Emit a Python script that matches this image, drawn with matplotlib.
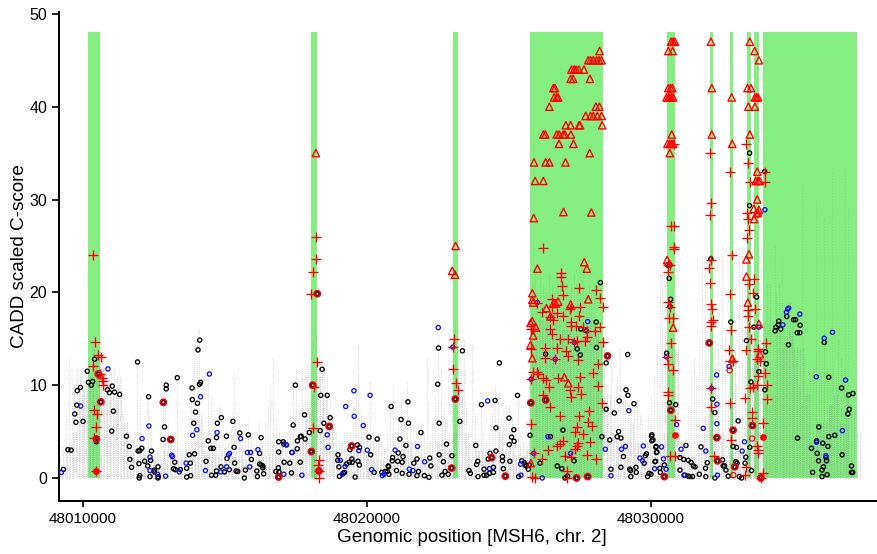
import numpy as np
import matplotlib
matplotlib.use('Agg')
import matplotlib.pyplot as plt

plt.rcParams['font.family'] = ['Liberation Sans', 'DejaVu Sans']

# positions are kb past 48,000,000, second number is the C-score
BASE = 48000000

band_start = [10.18, 18.04, 23.03, 25.75, 30.58, 32.07, 32.78, 33.38, 33.61, 33.96]
band_end = [10.59, 18.25, 23.19, 28.30, 30.84, 32.19, 32.87, 33.52, 33.81, 37.26]

# top of the gray dust, one value each 0.1 kb from 9.0 kb
gray_top = [1, 1.5, 2, 3.5, 7, 13, 8, 10, 12, 11, 11, 13, 13, 14, 15.5, 14.5, 15, 13, 12, 11,
	11.5, 12, 11, 11, 7, 5, 4, 3, 5, 12.8, 9, 4, 3, 9, 5, 3, 3, 5, 9, 10.5,
	6, 4, 3, 11, 3.5, 3, 4, 5, 10, 14, 15.5, 16, 6, 3, 12, 9, 4, 5, 8, 4,
	3, 4, 5.5, 11.5, 5, 6, 5, 4, 6, 4, 3, 5, 6, 4, 6, 8, 10, 13, 6, 5,
	4, 4, 5, 7, 10.5, 12, 8, 12, 12, 12.5, 13, 15, 17, 14, 13, 12, 11, 9, 6, 5,
	4, 4, 5, 5, 5, 8, 10, 14.5, 7, 6.5, 6, 10.5, 5, 4, 5, 3, 3, 5, 8, 10,
	5, 6, 9, 6, 10.5, 6, 4, 3, 4, 6, 5, 13, 4, 6, 9, 15, 12, 8, 6, 5,
	9, 17, 16, 13, 15, 8, 4, 14.5, 7, 4, 9, 5, 4, 5, 7, 10, 9, 6, 6, 8,
	8, 6.5, 5, 9, 5, 4, 6, 11, 21, 22, 20, 22, 21, 20, 22, 21, 20, 22, 21, 22,
	21, 20, 21, 22, 20, 21, 22, 20, 21, 20, 21, 15, 13, 9, 10, 8, 13, 9, 11, 14,
	9, 10, 6.5, 6, 8, 8.5, 7, 6, 5, 7, 9, 11, 14, 22, 23, 21, 12, 7, 5, 5,
	5, 4, 4, 8, 11, 13, 11, 15, 24, 22, 14, 10, 7, 5, 9, 25, 16, 9, 8, 8,
	10, 25, 25, 22, 25, 22, 15, 14, 17, 15, 17, 21, 21, 17, 20, 21, 19, 18, 18, 19,
	17, 13, 10, 8, 13, 10, 12, 12, 15, 14, 11, 16, 12, 10, 12, 11, 15, 13, 12, 9]

# height of the dense part of the dust, one value each 0.2 kb from 9.0 kb
gray_core = [.5, 1, 3, 5, 9, 10, 11, 13, 12, 10,
	9.5, 9.5, 6, 3, 2, 2.5, 2, 2, 2, 3,
	3, 2, 2, 2, 4, 7, 3, 3, 2.5, 3,
	2, 2.5, 2.5, 2, 3, 2, 2.5, 2.5, 3.5, 3,
	2, 2, 3, 5, 7, 9, 11, 9, 7, 3,
	2, 2.5, 3, 4, 3, 3, 2, 2, 1.5, 3,
	2.5, 4, 4, 2, 2, 2, 2, 4, 6, 3,
	5, 9, 5, 2, 3, 3, 2, 3, 5, 3,
	3.5, 2.5, 2.5, 3, 15, 17, 17, 16, 17, 16,
	16, 16, 15, 16, 17, 16, 15, 9, 5, 4,
	4, 6, 4, 3, 4, 3, 3, 5, 15, 14,
	3, 2, 2, 3, 5, 7, 14, 5, 2.5, 14,
	4, 3, 16, 15, 15, 8, 9, 16, 14, 16,
	14, 14, 9, 4, 6, 6, 8, 9, 6, 9,
	8, 5]

# sparse streaks inside the last band
gray_high_x = [34.35, 34.6, 35.3, 35.8, 36.1, 36.36, 36.83, 36.95]
gray_high_top = [25, 24, 32, 30, 28, 33, 34, 29]

black_pts = [(9.31, .93), (9.47, 3.05), (9.58, 3.0), (9.71, 6.9), (9.75, 6.0), (9.78, 7.85), (9.80, 9.4), (9.91, 9.75),
	(10.0, 6.1), (10.15, 11.5), (10.19, 10.3), (10.29, 10.0), (10.34, 10.4), (10.41, 12.8), (10.47, 3.9), (10.86, 9.5),
	(10.93, 9.2), (11.03, 9.9), (11.11, 9.25), (11.29, 9.0), (11.07, 7.2), (11.01, 5.05), (11.53, 4.5), (11.63, 3.4),
	(11.65, 2.0), (11.71, 1.15), (11.92, 12.5), (11.94, 2.9), (12.0, 2.95), (12.07, 3.2), (11.97, 1.55), (12.0, .25),
	(11.98, 0), (12.17, 1.8), (12.28, 1.3), (12.38, 1.9), (12.41, 2.9), (12.31, 8.75), (12.36, .15), (12.51, .85),
	(12.51, .65), (12.64, 1.2), (12.65, .15), (12.64, 0), (12.82, 4.15), (12.87, 5.5), (12.93, 9.6), (12.93, 10),
	(13.23, 1.7), (13.19, 1.0), (13.25, .9), (13.43, .9), (13.32, 10.8), (13.65, 1.05), (13.65, .1), (13.78, 1.6),
	(13.79, .25), (13.74, 2.5), (13.93, 2.6), (13.84, 9.7), (13.85, 8.45), (14.03, 8.05), (14.1, 10.1), (14.14, 10.3),
	(13.96, 7.1), (13.9, 5.9), (14.05, 13.8), (14.11, 14.85), (14.33, 1.8), (14.41, 4.0), (14.5, 3.2), (14.59, 3.2),
	(14.7, 4.35), (14.73, 5.9), (14.87, 6.5), (14.53, .3), (14.67, .3), (14.7, .75), (14.86, 1.2), (14.98, .65),
	(15.15, .9), (15.07, 2.1), (15.32, 3.3), (15.28, 6.1), (15.34, 1.6), (15.39, .75), (15.45, .7), (15.05, 4.5),
	(15.52, 4.85), (15.68, 0), (15.72, .85), (15.82, 4.65), (15.93, 2.0), (16.12, .75), (16.14, .15), (16.22, 1.5),
	(16.22, 2.65), (16.27, 4.35), (16.33, 1.3), (16.36, .45), (16.33, 1.1), (16.27, 1.4), (16.79, .7), (16.89, 3.9),
	(16.89, 2.8), (16.88, 1.1), (16.9, .65), (17.05, 3.9), (17.07, 3.65), (17.08, 1.7), (17.28, 1.6), (17.34, .55),
	(17.4, 5.7), (17.48, 10.0), (17.54, 3.15), (17.65, 1.7), (17.55, 4.0), (17.65, 4.45), (17.68, 4.5), (17.82, 4.2),
	(17.8, 6.8), (17.97, 4.9), (18.35, 5.1), (18.37, 8.9), (18.42, 11.7), (18.6, 8.9), (18.48, 5.9), (18.7, 6.5),
	(18.98, 2.5), (18.97, 1.9), (19.01, 1.2), (19.03, .18), (19.17, .53), (19.21, .6), (19.28, 1.5), (19.38, 1.7),
	(19.4, 3.05), (19.47, 2.05), (19.48, 1.7), (19.58, .1), (19.66, 3.55), (19.74, 3.3), (19.68, 1.8), (19.73, 1.4),
	(20.07, 4.4), (20.13, 2.5), (20.25, .6), (20.36, 4.2), (20.52, .6), (20.65, .7), (20.72, .7), (20.77, .4),
	(20.76, 1.2), (20.75, 1.3), (20.85, 7.7), (20.9, 2.2), (20.89, 1.85), (21.04, .8), (21.08, 1.8), (21.1, 2.7),
	(21.2, 6.3), (21.24, 1.7), (21.27, 2.3), (21.24, .5), (21.16, 4.2), (21.37, 3.5), (21.44, 8.2), (21.46, 5.9),
	(21.48, .4), (21.65, 1.6), (21.76, 2.05), (21.76, .25), (21.81, .7), (21.9, 4.9), (22.02, .25), (22.18, .07),
	(22.21, 2.15), (22.25, 1.3), (22.49, 10.1), (22.52, 14), (22.54, 5.9), (22.54, 2.5), (22.69, 1.75), (22.75, .7),
	(22.64, .3), (22.8, 3.65), (22.86, .4), (22.99, 2.4), (23.27, 6.1), (23.36, 13.7), (23.59, .8), (23.64, .5),
	(23.83, 3.5), (23.86, 1.45), (23.9, 1.8), (23.91, .15), (24.03, 7.9), (24.12, .95), (24.12, .3), (24.21, .3),
	(24.31, .5), (24.33, 2.65), (24.27, 2.05), (24.45, 1.15), (24.45, .6), (24.51, 8.35), (24.54, 5.4), (24.54, 2.9),
	(24.66, 12.4), (24.77, 2.3), (24.77, 1.85), (24.8, 1.0), (25.03, 1.8), (25.0, 6.45), (25.17, 5.2), (25.09, 4.4),
	(25.18, 3.95), (25.01, 3.6), (25.3, 8.9), (25.34, .15), (25.45, 1.85), (25.54, 1.65), (25.62, 1.3), (25.56, 1.4),
	(25.68, .95), (25.71, 1.4), (25.74, 4.6), (26.09, 1.6), (26.29, 13.35), (26.46, 4.45), (26.9, 5.15), (26.7, 1.3),
	(26.86, 1.0), (27.06, .2), (26.97, 0), (27.29, 1.85), (27.4, 13.9), (27.51, 13.25), (27.53, 16.05), (27.73, 15.85),
	(28.07, 16.8), (28.08, 14.05), (28.22, 21.05), (28.27, 4.45), (28.42, 12.4), (28.42, 7.4), (28.55, 4.1), (28.71, 7.0),
	(28.81, 4.45), (28.86, 5.0), (28.88, 8.3), (29.12, 9.5), (29.19, 8.9), (29.18, 13.3), (29.4, 8.0), (28.94, 4.3),
	(29.03, 2.3), (28.94, 1.15), (28.59, .95), (29.25, .95), (29.28, .8), (29.29, .15), (29.47, 1.15), (29.48, .6),
	(29.8, 2.4), (29.84, 2.6), (29.76, 1.6), (29.88, .15), (29.93, .5), (30.03, 4.65), (30.07, 4.1), (30.18, 3.4),
	(30.21, 2.8), (30.16, 1.8), (30.31, 1.05), (30.33, .6), (30.58, 22.95), (30.67, 22.95), (30.64, 21.5), (30.69, 19.25),
	(30.67, 18.45), (30.55, 13.45), (30.65, 8.1), (30.87, 7.9), (31.23, 3.5), (31.02, 2.2), (31.02, .85), (31.15, 2.0),
	(31.31, 1.9), (31.41, 1.7), (31.49, 1.3), (31.55, 1.2), (31.19, .3), (31.31, .2), (31.37, .15), (31.46, .15),
	(30.47, 1.4), (30.02, 4.5), (30.03, 4.0), (30.17, 3.3), (30.19, 2.75), (30.14, 1.75), (30.0, .4), (31.76, 3.35),
	(31.7, .4), (31.93, .15), (31.98, 1.65), (31.92, 1.05), (32.25, 0), (32.34, 1.85), (32.52, 1.95), (32.54, 1.3),
	(32.64, .85), (32.59, 1.3), (32.72, .2), (32.89, 3.4), (33.01, 3.3), (32.99, 1.75), (33.03, 1.6), (33.11, .15),
	(33.19, 0), (33.34, 2.25), (33.31, 1.6), (33.54, .8), (33.48, 3.3), (33.07, 6.15), (32.25, 7.05), (32.17, 8.5),
	(32.81, 16.8), (33.36, 14.8), (33.52, 10.35), (34.01, 9.5), (34.03, 13.6), (34.06, 12.3), (33.8, 11.45), (33.72, 19.5),
	(33.62, 16.25), (33.47, 35), (33.47, 29.35), (34.0, 33), (32.11, 23.6), (34.5, 16.9), (34.48, 16.5), (34.4, 16.25),
	(34.37, 15.85), (34.57, 16.05), (34.78, 17.4), (35.02, 17.05), (35.09, 17.05), (35.25, 16.45), (35.15, 15.65),
	(35.24, 15.65), (34.84, 14.35), (36.26, 10.85), (36.71, 9.7), (36.96, 8.95), (37.11, 9.1), (36.98, 7.4), (36.93, 6.9),
	(35.16, 4.3), (35.91, 5.5), (36.26, 4.45), (36.47, 4.6), (35.65, 3.2), (35.85, 2.65), (35.83, 4.0), (36.05, 3.75),
	(36.23, 3.4), (35.9, 1.85), (36.16, 2.2), (36.18, 1.85), (36.07, 1.2), (36.02, .85), (35.69, .6), (36.02, .15),
	(36.2, .35), (36.1, 14.6), (36.73, 2.5), (37.06, 1.3), (37.06, .6), (37.1, .6)]

blue_pts = [(9.24, .6), (9.92, 7.75), (10.88, 11.75), (12.08, 4.25), (12.32, 5.6), (12.36, 2.25), (12.36, .8), (12.63, .4),
	(12.91, .2), (13.12, 2.45), (13.15, 2.3), (13.39, .65), (13.63, 1.6), (13.86, 4.6), (14.01, 5.2), (14.14, 8.75),
	(14.31, .8), (14.45, 11.2), (14.72, 4.9), (14.85, .65), (15.06, 1.2), (15.12, 2.5), (15.16, 2.65), (15.55, 4.25),
	(15.79, 2.75), (15.9, 2.75), (15.87, 1.2), (16.16, 3.05), (17.07, .4), (17.17, 3.55), (17.37, 2.75), (17.71, .3),
	(17.15, 3.6), (17.35, 2.75), (18.6, 4.65), (18.63, 3.3), (19.06, 1.9), (19.13, .4), (19.23, 1.25), (19.25, 7.7),
	(19.54, 9.4), (19.55, 6.65), (19.71, 2.95), (19.87, 5.65), (20.01, 3.0), (20.11, 8.9), (20.16, .9), (20.54, .25),
	(20.6, .4), (20.99, 3.0), (21.49, .95), (21.62, .8), (21.78, 3.4), (22.03, 1.75), (22.51, 16.2), (23.02, 14.1),
	(24.25, 8.3), (24.31, 1.0), (25.41, 1.5), (25.42, .3), (26.17, 0), (26.37, 4.45), (27.77, 16.85), (28.39, 3.1),
	(28.59, .25), (28.96, 3.1), (29.1, 3.4), (29.22, 7.25), (29.61, 2.15), (29.7, 1.85), (29.73, 3.45), (30.13, 1.0),
	(30.37, 3.35), (30.44, 2.05), (30.53, .95), (30.9, 5.75), (31.06, 3.1), (31.16, .3), (27.3, 14.6), (26.63, 12.8),
	(26.0, 18.9), (25.78, 10.65), (25.87, 2.65), (30.55, 13.05), (27.17, 2.65), (31.84, 5.35), (31.93, 2.9), (32.31, 11.1),
	(32.32, 7.95), (32.32, 5.85), (32.34, .3), (32.13, 9.65), (32.75, 12.0), (33.21, 2.9), (33.29, 3.9), (34.81, 18.2),
	(34.85, 18.3), (34.77, 17.85), (35.24, 17.65), (34.64, 16.5), (33.8, 16.25), (36.39, 15.7), (36.1, 15.05), (35.82, 10.9),
	(36.85, 10.55), (36.74, 5.1), (35.83, 3.85), (36.16, 2.4), (34.01, 28.9)]

ringed_pts = [(10.63, 8.2), (10.54, 11.2), (10.47, 4.2), (12.83, 8.15), (13.09, 4.15), (16.89, .1), (18.04, 2.85), (18.09, 10),
	(18.25, 19.85), (18.67, 5.55), (18.31, .75), (19.46, 3.45), (22.98, 1.07), (23.11, 8.5), (24.39, 2.2), (24.87, .2),
	(25.77, 8.1), (26.29, 8.4), (27.38, 0), (27.77, .15), (28.47, 13.15), (30.47, .15), (30.7, 7.3), (32.05, 14.55),
	(32.32, 4.35), (32.34, 1.85), (32.89, 5.15), (32.95, 1.2), (33.57, 5.65), (33.87, 0)]
open_red_pts = [(32.9, .3), (32.77, 11.6), (33.56, 4.25)]
solid_red_pts = [(30.85, 4.65), (33.93, 4.45), (10.47, .75)]

plus_pts = [(10.36, 24), (10.41, 14.6), (10.53, 13.3), (10.64, 13.05), (10.34, 12.1), (10.6, 11.2), (10.66, 10.8), (10.7, 10.4),
	(10.7, 10.0), (10.4, 7.35), (10.5, 6.9), (10.45, 5.5), (10.4, 4.3), (10.47, .7),
	(18.1, 22.2), (18.2, 23.6), (18.22, 26), (18.04, 19.85), (18.25, 12.5), (18.13, 9.75), (18.1, 5.4), (18.32, 1.9),
	(18.27, 1.45), (18.3, .75), (18.3, 0),
	(23.07, 15.0), (23.02, 14.1), (23.04, 11.7), (23.13, 10.2), (23.2, 9.5),
	(26.21, 24.8), (26.83, 22.05), (26.83, 21.7), (26.85, 20.7), (26.91, 19.7), (27.46, 20.5), (28.05, 20.25), (28.2, 19.4),
	(26.5, 19.25), (28.32, 18.4), (26.15, 17.85), (26.5, 18.45), (26.7, 17.75), (26.89, 17.45), (26.44, 17.3), (26.56, 17),
	(27.2, 18.4), (27.14, 18.2), (27.5, 18.4), (27.47, 17.45), (27.2, 16.85), (27.2, 16.4), (27.36, 16.4), (27.59, 16.25),
	(26.44, 16.0), (26.5, 15.5), (27.73, 15.8), (28.03, 15.8), (28.22, 16.25), (26.79, 15.0), (27.09, 14.95), (27.73, 15.15),
	(27.38, 14.8), (27.67, 14.8), (28.32, 14.6), (26.26, 14.05), (26.68, 14.0), (26.99, 13.7), (27.09, 13.1), (26.26, 12.9),
	(27.44, 12.7), (28.14, 12.25), (25.85, 11.45), (25.97, 11.45), (26.03, 11.2), (26.21, 10.75), (26.73, 10.75), (27.5, 10.9),
	(27.97, 11.3), (26.32, 10.55), (26.41, 9.85), (27.44, 9.85), (28.14, 9.9), (27.14, 9.5), (27.53, 9.1), (26.21, 8.95),
	(27.18, 8.75), (28.26, 8.1), (26.44, 7.7), (27.83, 7.25), (26.79, 6.65), (27.47, 6.65), (25.79, 5.85), (27.79, 6.05),
	(27.91, 5.55), (27.38, 5.45), (27.61, 4.7), (27.32, 4.9), (26.91, 4.0), (27.85, 3.85), (27.44, 3.8), (26.38, 3.0),
	(26.7, 3.4), (26.79, 3.7), (27.41, 3.4), (27.32, 3.1), (27.75, 2.5), (26.97, 2.4), (27.2, 2.3), (28.08, 2.0),
	(26.15, 2.0), (27.03, .7), (25.82, .1), (25.91, 0), (27.03, 0), (25.77, 16.1), (25.85, 16), (25.77, 13.9), (25.78, 10.65),
	(25.87, 2.65), (26.0, 18.9), (26.63, 12.8), (27.3, 14.6),
	(30.8, 36), (30.7, 27.1), (30.82, 27.15), (30.82, 24.9), (30.82, 24.65), (30.61, 22.9), (30.66, 22.9), (30.61, 22.2),
	(30.61, 19), (30.66, 18.45), (30.64, 17.2), (30.78, 17.2), (30.69, 14.5), (30.55, 13.05), (30.61, 12.3), (30.76, 11.65),
	(30.61, 9.3), (30.61, 8.95), (30.84, 6.2), (30.66, 2.4), (30.84, 2.4),
	(32.08, 35), (32.1, 29.6), (32.07, 28.35), (32.11, 23.5), (32.05, 22.6), (32.07, 21), (32.1, 18.75), (32.15, 18.2),
	(32.19, 17), (32.13, 16.75), (32.1, 16.4), (32.13, 9.65), (32.1, 7.6), (32.21, 2.4),
	(32.79, 33), (32.84, 24), (32.78, 19.8), (32.81, 15.95), (32.73, 13.8), (32.78, 12.6), (32.89, 12.6), (32.78, 8.05), (32.81, 4.1),
	(33.36, 36), (33.4, 33.9), (33.48, 31.9), (33.38, 28.6), (33.41, 27.9), (33.45, 26.7), (33.39, 25.9), (34.0, 32.95), (34.01, 31.9),
	(33.45, 20.9), (33.62, 21.45), (33.6, 19.9), (33.66, 18.2), (33.42, 18.1), (33.42, 17.4), (33.45, 16.3), (33.52, 15),
	(33.36, 13.8), (33.77, 13.9), (33.77, 13.7), (33.72, 12.8), (33.83, 12.55), (33.77, 11), (34.01, 11.35), (33.72, 10),
	(33.6, 9.85), (33.48, 9.65), (34.09, 10), (33.3, 8.65), (34.09, 8.5), (33.57, 7.1), (33.54, 6.45), (33.93, 5.95),
	(33.74, 3.4), (33.77, 3), (33.77, 2.65), (33.34, 1.2), (33.31, .3), (33.87, 0), (33.95, .5), (34.04, 14.5)]

tri_pts = [(28.19, 46), (27.79, 45), (27.87, 45), (27.97, 45), (28.08, 45), (28.17, 45), (28.26, 45),
	(27.2, 44), (27.29, 44), (27.36, 44), (27.46, 44), (27.64, 44), (27.17, 43), (27.26, 43), (27.85, 43),
	(26.56, 42), (26.62, 42), (26.59, 41), (26.68, 41), (26.73, 41), (26.42, 40), (28.06, 40), (28.18, 40),
	(27.7, 39), (27.87, 39), (27.97, 39), (28.11, 39), (28.26, 39), (27.0, 38), (27.17, 38), (27.47, 38), (27.5, 38), (28.28, 38),
	(26.21, 37), (26.28, 37), (26.68, 37), (26.77, 37), (26.91, 37), (26.97, 37), (27.18, 37), (26.76, 36), (27.27, 36),
	(27.84, 35), (25.88, 34), (26.29, 34), (26.42, 34), (26.99, 34), (25.92, 32), (26.21, 32), (26.92, 28.65), (27.9, 28.6), (25.87, 28),
	(26.0, 22.55), (27.65, 23.25), (27.74, 22.55), (25.82, 19.9), (25.82, 19.2), (25.85, 18.9), (26.32, 18.3), (26.56, 18.8),
	(26.73, 19.0), (26.65, 18.8), (27.17, 18.7), (27.79, 19.25), (26.46, 17.4), (25.82, 16.9), (25.76, 16.7), (25.95, 16.2),
	(25.85, 15.35), (25.76, 14.35), (25.82, 12.9), (26.95, 10.85), (27.09, 10.2), (25.77, 1.6),
	(18.2, 35), (23.12, 25), (23.0, 22.3), (23.1, 21.9),
	(30.71, 47), (30.78, 47), (30.84, 47), (30.61, 46), (30.76, 46), (30.61, 42), (30.69, 42), (30.75, 42),
	(30.55, 41), (30.61, 41), (30.66, 41), (30.72, 41), (30.78, 41), (30.73, 37), (30.58, 36), (30.66, 36), (30.72, 36), (30.78, 36), (30.66, 35),
	(32.11, 47), (32.14, 42), (32.14, 37), (32.84, 41), (32.86, 36), (33.48, 47), (33.4, 42), (33.52, 42), (33.43, 40), (33.66, 40), (33.48, 37),
	(33.65, 46), (33.8, 45), (33.66, 41), (33.72, 41), (33.77, 41), (33.74, 33), (33.69, 32), (33.77, 32), (33.83, 32), (33.74, 30),
	(33.62, 29), (33.8, 28.9), (33.72, 28.5), (33.77, 28.6), (33.63, 27.9),
	(30.57, 23.5), (33.45, 24.1), (33.36, 23.55), (33.36, 21.7), (33.41, 18.9), (33.8, 16.6), (30.78, 16.2), (33.83, 13.35), (32.87, 12.85)]

x_ticks = [48010000, 48020000, 48030000]
y_ticks = [0, 10, 20, 30, 40, 50]


def to_xy(pts):
	pts = np.asarray(pts, dtype=float)
	return BASE + pts[:, 0] * 1000, pts[:, 1]


fig = plt.figure(figsize=(8.77, 5.54), dpi=100)
ax = fig.add_axes([59 / 877, 1 - 501 / 554, (884 - 59) / 877, (501 - 12) / 554])

for s, e in zip(band_start, band_end):
	ax.fill_between([BASE + s * 1000, BASE + e * 1000], 0, 48, color='#84EE80', lw=0, zorder=1)

# dust: faint spikes up to gray_top, denser below gray_core
gray_x = BASE + (9.0 + 0.1 * np.arange(len(gray_top))) * 1000
ax.vlines(gray_x, 0, gray_top, color='#808080', lw=0.8, linestyles=(0, (0.45, 1.4)), alpha=0.5, zorder=2)
core_x = BASE + (9.0 + 0.2 * np.arange(len(gray_core))) * 1000
ax.vlines(core_x + 50, 0, gray_core, color='#808080', lw=0.8, linestyles=(0, (0.6, 1.0)), alpha=0.55, zorder=2)
ax.vlines(core_x + 150, 0, gray_core, color='#808080', lw=0.8, linestyles=(0.5, (0.6, 1.0)), alpha=0.55, zorder=2)
ax.vlines(BASE + np.array(gray_high_x) * 1000, 0, gray_high_top, color='#808080', lw=0.7,
	linestyles=(0, (0.4, 2.5)), alpha=0.5, zorder=2)

x, y = to_xy(black_pts)
ax.scatter(x, y, s=9, facecolors='none', edgecolors='black', linewidths=0.95, zorder=3, clip_on=False)
x, y = to_xy(blue_pts)
ax.scatter(x, y, s=9, facecolors='none', edgecolors='#1010f0', linewidths=0.95, zorder=3, clip_on=False)
x, y = to_xy(ringed_pts)
ax.scatter(x, y, s=17, facecolors='none', edgecolors='#ee0010', linewidths=1.5, zorder=4)
ax.scatter(x, y, s=5, facecolors='none', edgecolors='black', linewidths=0.8, zorder=4)
x, y = to_xy(open_red_pts)
ax.scatter(x, y, s=14, facecolors='none', edgecolors='#ff0000', linewidths=0.9, zorder=4)
x, y = to_xy(solid_red_pts)
ax.scatter(x, y, s=24, color='#ff0000', linewidths=0, zorder=4)
x, y = to_xy(plus_pts)
ax.plot(x, y, linestyle='none', marker='+', ms=7, mew=0.95, color='#ff0000', zorder=5)
x, y = to_xy(tri_pts)
ax.scatter(x, y, s=28, marker='^', facecolors='none', edgecolors='#ff0000', linewidths=1.0, zorder=5)

ax.set_xlim(48009155, 48038204)
ax.set_ylim(-2.48, 50.2)
ax.set_xticks(x_ticks)
ax.set_xticklabels([str(t) for t in x_ticks], fontsize=11)
ax.set_yticks(y_ticks)
ax.tick_params(axis='y', labelsize=11.5, length=5, width=1.2)
ax.tick_params(axis='x', length=4.5, width=1.2)
ax.spines['top'].set_visible(False)
ax.spines['right'].set_visible(False)
ax.spines['left'].set_linewidth(1.4)
ax.spines['bottom'].set_linewidth(1.4)
ax.set_xlabel('Genomic position [MSH6, chr. 2]', fontsize=13.6, labelpad=2)
ax.set_ylabel('CADD scaled C-score', fontsize=13.6, labelpad=1)

plt.savefig('out.png', dpi=100)
